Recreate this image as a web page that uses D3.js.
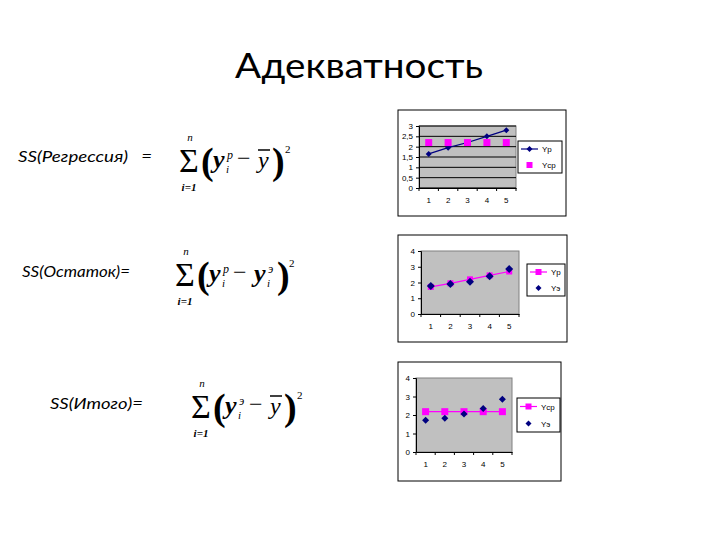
<!DOCTYPE html>
<html><head><meta charset="utf-8">
<script src="https://cdn.jsdelivr.net/npm/d3@7"></script>
<style>body{margin:0;background:#fff}svg{display:block}</style>
</head><body>
<svg id="s" width="720" height="540"></svg>
<script>
// ---- data ----
const title = "Адекватность";
const categories = [1, 2, 3, 4, 5];
// chart 1
const c1_Yp  = [1.65, 1.95, 2.2, 2.5, 2.8];
const c1_Ycp = [2.2, 2.2, 2.2, 2.2, 2.2];
const c1_ticks = [0, 0.5, 1, 1.5, 2, 2.5, 3];
const c1_tickLabels = ["0", "0,5", "1", "1,5", "2", "2,5", "3"];
// chart 2
const c2_Yp = [1.72, 1.95, 2.2, 2.45, 2.7];
const c2_Ye = [1.78, 1.9, 2.05, 2.4, 2.85];
const c2_ticks = [0, 1, 2, 3, 4];
// chart 3
const c3_Ycp = [2.18, 2.18, 2.18, 2.18, 2.18];
const c3_Ye  = [1.72, 1.82, 2.05, 2.35, 2.85];
const c3_ticks = [0, 1, 2, 3, 4];
// labels
const rowLabels = ["SS(Регрессия)   =", "SS(Остаток)=", "SS(Итого)="];
const legend1 = ["Yр", "Yср"];
const legend2 = ["Yр", "Yэ"];
const legend3 = ["Yср", "Yэ"];

const NAVY = "#000080", MAG = "#FF00FF";
const svg = d3.select("#s");

svg.append("text").attr("x", 235).attr("y", 78)
  .attr("font-family", "Lato, 'Open Sans', sans-serif").attr("font-size", 34)
  .attr("textLength", 248).attr("lengthAdjust", "spacingAndGlyphs")
  .attr("fill", "#000").text(title);

// ---- row labels ----
const labelPos = [[18, 162, 134], [22, 277, 108], [50, 409, 93]];
rowLabels.forEach((t, i) => {
  svg.append("text").attr("x", labelPos[i][0]).attr("y", labelPos[i][1])
    .attr("font-family", "Lato, 'Open Sans', sans-serif").attr("font-style", "italic")
    .attr("font-size", 16).attr("fill", "#000").attr("xml:space", "preserve")
    .attr("textLength", labelPos[i][2]).attr("lengthAdjust", "spacingAndGlyphs")
    .style("white-space", "pre").text(t);
});

// ---- formulas ----
function formula(x0, yb, second) {
  const g = svg.append("g").attr("transform", `translate(${x0},${yb})`)
    .attr("font-family", "'Liberation Serif', 'Times New Roman', serif").attr("fill", "#000");
  const T = (x, y, s, txt, opt = {}) => g.append("text").attr("x", x).attr("y", y)
    .attr("font-size", s).attr("font-style", opt.it ? "italic" : "normal")
    .attr("font-weight", opt.b ? "bold" : "normal")
    .attr("text-anchor", opt.a || "start").text(txt);
  T(11, 0, 34, "Σ", { a: "middle" });
  T(12, -31, 11, "n", { it: 1, a: "middle" });
  T(11, 19, 11, "i=1", { it: 1, b: 1, a: "middle" });
  T(23, 2, 38, "(", { b: 1 });
  T(35, -4, 26, "y", { it: 1, b: 1 });
  T(49, -13, 12, second.sup1, { it: 1 });
  T(48, 1, 11, "i", { it: 1 });
  T(59, -6, 24, "−");
  if (second.bar) {
    T(80, -4, 24, "y", { it: 1 });
    g.append("line").attr("x1", 80).attr("x2", 92).attr("y1", -22).attr("y2", -22)
      .attr("stroke", "#000").attr("stroke-width", 1.5);
    T(94, 2, 38, ")", { b: 1 });
    T(107, -19, 11, "2");
  } else {
    T(80, -4, 26, "y", { it: 1, b: 1 });
    T(94, -13, 12, second.sup2, { it: 1 });
    T(93, 1, 11, "i", { it: 1 });
    T(103, 2, 38, ")", { b: 1 });
    T(115, -19, 11, "2");
  }
}
formula(178, 172, { sup1: "p", bar: true });
formula(174, 286, { sup1: "p", bar: false, sup2: "э" });
formula(190, 418, { sup1: "э", bar: true });

// ---- charts ----
function marker(g, type, x, y, size, color) {
  if (type === "square") {
    g.append("rect").attr("x", x - size / 2).attr("y", y - size / 2)
      .attr("width", size).attr("height", size).attr("fill", color);
  } else {
    const h = size / 2;
    g.append("path").attr("d", `M${x},${y - h}L${x + h},${y}L${x},${y + h}L${x - h},${y}Z`)
      .attr("fill", color);
  }
}

function chart(cfg) {
  const g = svg.append("g");
  g.append("rect").attr("x", cfg.box[0]).attr("y", cfg.box[1])
    .attr("width", cfg.box[2] - cfg.box[0]).attr("height", cfg.box[3] - cfg.box[1])
    .attr("fill", "#fff").attr("stroke", "#000").attr("stroke-width", 1);
  const [L, T, R, B] = cfg.plot;
  const x = d3.scaleBand().domain(categories).range([L, R]);
  const y = d3.scaleLinear().domain([0, cfg.ymax]).range([B, T]);
  g.append("rect").attr("x", L).attr("y", T).attr("width", R - L).attr("height", B - T)
    .attr("fill", "#C0C0C0").attr("stroke", "#808080").attr("stroke-width", 1);
  if (cfg.grid) {
    cfg.ticks.forEach(t => g.append("line").attr("x1", L).attr("x2", R)
      .attr("y1", y(t)).attr("y2", y(t)).attr("stroke", "#000").attr("stroke-width", 1));
  }
  const yAx = d3.axisLeft(y).tickValues(cfg.ticks).tickSize(3).tickPadding(3)
    .tickFormat((d, i) => cfg.tickLabels ? cfg.tickLabels[i] : d);
  const ya = g.append("g").attr("transform", `translate(${L},0)`).call(yAx);
  const xAx = d3.axisBottom(x).tickSize(0).tickPadding(9);
  const xa = g.append("g").attr("transform", `translate(0,${B})`).call(xAx);
  [ya, xa].forEach(a => {
    a.selectAll("path").attr("stroke", "#000");
    a.selectAll("line").attr("stroke", "#000");
    a.selectAll("text").attr("font-family", "Arial, 'Liberation Sans', sans-serif")
      .attr("font-size", 8).attr("fill", "#000");
  });
  categories.concat([null]).forEach((c, i) => {
    const px = L + i * x.step();
    g.append("line").attr("x1", px).attr("x2", px).attr("y1", B).attr("y2", B + 3)
      .attr("stroke", "#000");
  });
  const cx = d => x(d) + x.bandwidth() / 2;
  cfg.series.forEach(s => {
    if (s.line) {
      g.append("path").datum(s.values)
        .attr("d", d3.line().x((d, i) => cx(categories[i])).y(d => y(d)))
        .attr("fill", "none").attr("stroke", s.color).attr("stroke-width", 1.2);
    }
    s.values.forEach((v, i) => marker(g, s.marker, cx(categories[i]), y(v), s.size, s.color));
  });
  const [lx, ly, lr, lb] = cfg.legend;
  g.append("rect").attr("x", lx).attr("y", ly).attr("width", lr - lx).attr("height", lb - ly)
    .attr("fill", "#fff").attr("stroke", "#000");
  const step = (lb - ly) / cfg.series.length;
  cfg.series.forEach((s, i) => {
    const yy = ly + step * (i + 0.5);
    if (s.line) g.append("line").attr("x1", lx + 3).attr("x2", lx + 20).attr("y1", yy).attr("y2", yy)
      .attr("stroke", s.color).attr("stroke-width", 1.2);
    marker(g, s.marker, lx + 11.5, yy, Math.min(s.size, 6), s.color);
    g.append("text").attr("x", lx + 24).attr("y", yy + 3)
      .attr("font-family", "Arial, 'Liberation Sans', sans-serif").attr("font-size", 8)
      .text(cfg.names[i]);
  });
}

chart({
  box: [398, 110, 566, 216], plot: [419, 126, 516, 188], ymax: 3,
  ticks: c1_ticks, tickLabels: c1_tickLabels, grid: true,
  legend: [518, 141, 562, 173], names: legend1,
  series: [
    { values: c1_Yp, color: NAVY, marker: "diamond", size: 6, line: true },
    { values: c1_Ycp, color: MAG, marker: "square", size: 7, line: false }
  ]
});
chart({
  box: [398, 235, 567, 342], plot: [421, 251, 519, 314], ymax: 4,
  ticks: c2_ticks, grid: false,
  legend: [527, 264, 565, 296], names: legend2,
  series: [
    { values: c2_Yp, color: MAG, marker: "square", size: 6, line: true },
    { values: c2_Ye, color: NAVY, marker: "diamond", size: 8, line: false }
  ]
});
chart({
  box: [398, 362, 561, 481], plot: [416, 378, 512, 452], ymax: 4,
  ticks: c3_ticks, grid: false,
  legend: [517, 398, 560, 432], names: legend3,
  series: [
    { values: c3_Ycp, color: MAG, marker: "square", size: 7, line: true },
    { values: c3_Ye, color: NAVY, marker: "diamond", size: 7, line: false }
  ]
});
</script>
</body></html>
